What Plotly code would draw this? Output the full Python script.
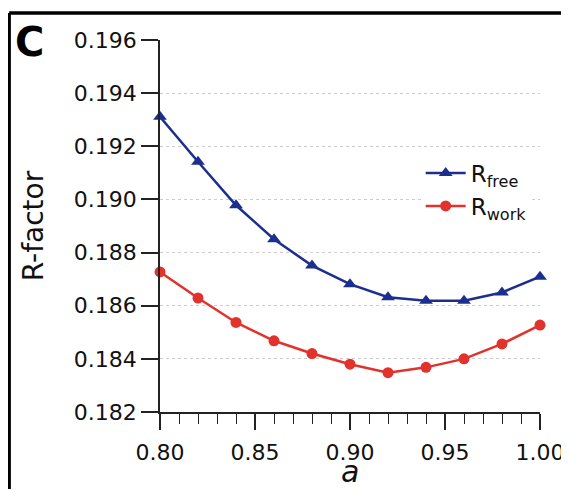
import plotly.graph_objects as go

a_values = [0.80, 0.82, 0.84, 0.86, 0.88, 0.90, 0.92, 0.94, 0.96, 0.98, 1.00]
r_free = [0.19311, 0.19142, 0.18978, 0.1885, 0.18751, 0.18681, 0.18632, 0.18619, 0.18619, 0.1865, 0.18709]
r_work = [0.18727, 0.18629, 0.18537, 0.18468, 0.1842, 0.1838, 0.18348, 0.18368, 0.184, 0.18456, 0.18527]
x_ticks = [0.80, 0.85, 0.90, 0.95, 1.00]
x_tick_labels = ["0.80", "0.85", "0.90", "0.95", "1.00"]
y_ticks = [0.182, 0.184, 0.186, 0.188, 0.190, 0.192, 0.194, 0.196]
y_tick_labels = ["0.182", "0.184", "0.186", "0.188", "0.190", "0.192", "0.194", "0.196"]

BLUE = "#1c2f8e"
RED = "#e2322c"
FONT = "DejaVu Sans"

fig = go.Figure()
fig.add_trace(go.Scatter(
    x=a_values, y=r_free, mode="lines+markers", name="R<sub>free</sub>",
    legendgroup="free",
    line=dict(color=BLUE, width=2.5),
    marker=dict(symbol="triangle-up", size=12, color=BLUE),
    cliponaxis=False,
))
fig.add_trace(go.Scatter(
    x=a_values, y=r_work, mode="lines+markers", name="R<sub>work</sub>",
    legendgroup="work",
    line=dict(color=RED, width=2.5),
    marker=dict(symbol="circle", size=11, color=RED),
    cliponaxis=False,
))

# page body adds an 8px offset; figure sized to reach the right edge of the 569x497 window
fig.update_layout(
    width=561, height=481,
    margin=dict(l=152, r=29, t=32, b=77),
    paper_bgcolor="white", plot_bgcolor="white",
    font=dict(family=FONT, color="#111111"),
    showlegend=True,
    legend=dict(
        x=0.686, y=0.70, xanchor="left", yanchor="top",
        bgcolor="white", font=dict(size=23, family=FONT),
        tracegroupgap=0, itemwidth=40,
    ),
    xaxis=dict(
        range=[0.80, 1.00], automargin=False,
        tickmode="array", tickvals=x_ticks, ticktext=x_tick_labels,
        ticks="outside", ticklen=16, tickwidth=1.5, tickcolor="#222",
        minor=dict(dtick=0.01, ticks="outside", ticklen=10, tickwidth=1.2, tickcolor="#222", showgrid=False),
        showline=True, linecolor="#222", linewidth=1.5,
        showgrid=False, zeroline=False, ticklabelstandoff=4,
        ticklabeloverflow="allow",
        tickfont=dict(size=22, family=FONT),
    ),
    yaxis=dict(
        range=[0.182, 0.196], automargin=False,
        tickmode="array", tickvals=y_ticks, ticktext=y_tick_labels,
        ticks="outside", ticklen=17, tickwidth=1.5, tickcolor="#222",
        showline=True, linecolor="#222", linewidth=1.5,
        showgrid=True, gridcolor="#cccccc", griddash="dot", gridwidth=1,
        zeroline=False, ticklabeloverflow="allow",
        tickfont=dict(size=22, family=FONT),
        title=dict(text="R-factor", font=dict(size=28, family=FONT), standoff=22),
    ),
)

# x-axis title
fig.add_annotation(text="<i>a</i>", xref="paper", yref="paper",
                   x=0.5, y=-0.108, xanchor="center", yanchor="top",
                   showarrow=False, font=dict(size=30, family=FONT, color="#111111"))

# panel frame (top and left edges)
fig.add_shape(type="line", xref="paper", yref="paper",
              x0=-0.397, x1=1.2, y0=1.0726, y1=1.0726,
              line=dict(color="black", width=3.5))
fig.add_shape(type="line", xref="paper", yref="paper",
              x0=-0.397, x1=-0.397, y0=1.0726, y1=-0.3,
              line=dict(color="black", width=3.5))

fig.add_annotation(text="<b>C</b>", xref="paper", yref="paper",
                   x=-0.388, y=1.063, xanchor="left", yanchor="top",
                   showarrow=False, font=dict(size=40, family=FONT, color="black"))

fig.write_html("out.html")
